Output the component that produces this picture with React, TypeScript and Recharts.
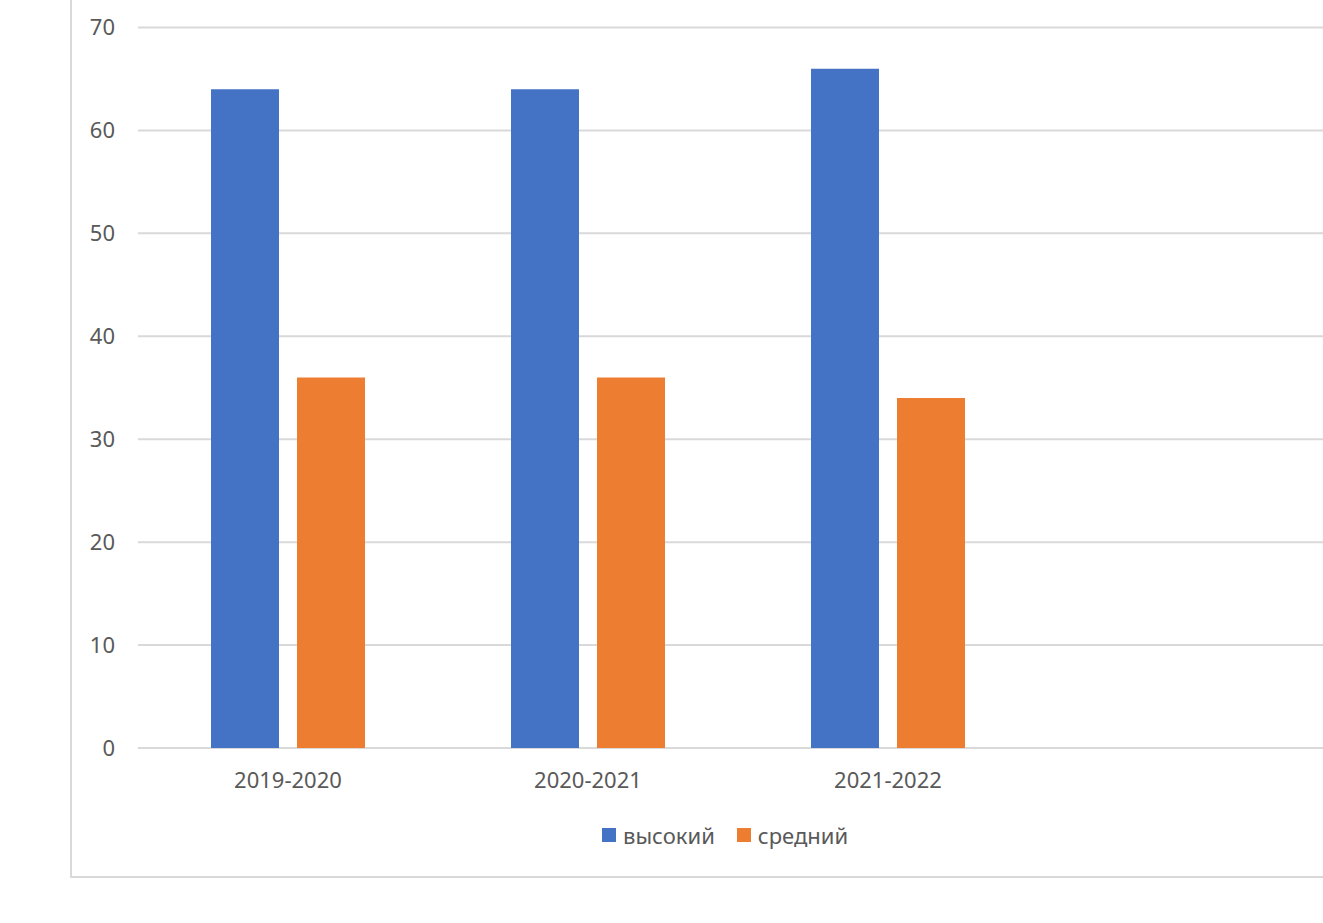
import React from 'react';
import { BarChart, Bar, XAxis, YAxis, CartesianGrid, Legend } from 'recharts';

const categories = ['2019-2020', '2020-2021', '2021-2022', ''];
const highValues: (number | null)[] = [64, 64, 66, null];
const midValues: (number | null)[] = [36, 36, 34, null];
const yTicks = [0, 10, 20, 30, 40, 50, 60, 70];
const seriesNames = ['высокий', 'средний'];
const colors = ['#4472C4', '#ED7D31'];

const data = categories.map((c, i) => ({ category: c, high: highValues[i], mid: midValues[i] }));

const FONT = '"Noto Sans", "Open Sans", sans-serif';

const LegendContent = (props: any) => {
  const payload = props.payload || [];
  return (
    <div style={{ display: 'flex', alignItems: 'center', fontFamily: FONT, fontSize: 22, color: '#595959', whiteSpace: 'nowrap' }}>
      {payload.map((p: any, i: number) => (
        <div key={i} style={{ display: 'flex', alignItems: 'center', marginRight: 22 }}>
          <span style={{ display: 'inline-block', width: 14, height: 14, background: p.color, marginRight: 7 }} />
          <span>{p.value}</span>
        </div>
      ))}
    </div>
  );
};

export default function App() {
  return (
    <div style={{ position: 'absolute', left: 0, top: 0, width: 1323, height: 923, overflow: 'hidden', background: '#fff' }}>
      <div
        style={{
          position: 'absolute',
          left: 70,
          top: -5,
          width: 1400,
          height: 883,
          boxSizing: 'border-box',
          border: '2px solid #d9d9d9',
        }}
      />
      <div style={{ position: 'absolute', left: 0, top: 0 }}>
        <BarChart
          width={1400}
          height={923}
          data={data}
          margin={{ top: 27.5, right: 62, bottom: 115, left: 0 }}
          barSize={68}
          barGap={18}
        >
          <CartesianGrid vertical={false} stroke="#d9d9d9" strokeWidth={2} />
          <XAxis
            dataKey="category"
            axisLine={false}
            tickLine={false}
            tickSize={0}
            tickMargin={24}
            height={60}
            interval={0}
            tick={{ fill: '#595959', fontSize: 22, fontFamily: FONT }}
          />
          <YAxis
            domain={[0, 70]}
            ticks={yTicks}
            axisLine={false}
            tickLine={false}
            tickSize={0}
            tickMargin={23}
            width={138}
            tick={{ fill: '#595959', fontSize: 22, fontFamily: FONT }}
          />
          <Legend
            layout="horizontal"
            verticalAlign="middle"
            align="center"
            content={<LegendContent />}
            wrapperStyle={{ position: 'absolute', left: 602, top: 820, width: 320, height: 30 }}
          />
          <Bar dataKey="high" name={seriesNames[0]} fill={colors[0]} isAnimationActive={false} />
          <Bar dataKey="mid" name={seriesNames[1]} fill={colors[1]} isAnimationActive={false} />
        </BarChart>
      </div>
    </div>
  );
}
